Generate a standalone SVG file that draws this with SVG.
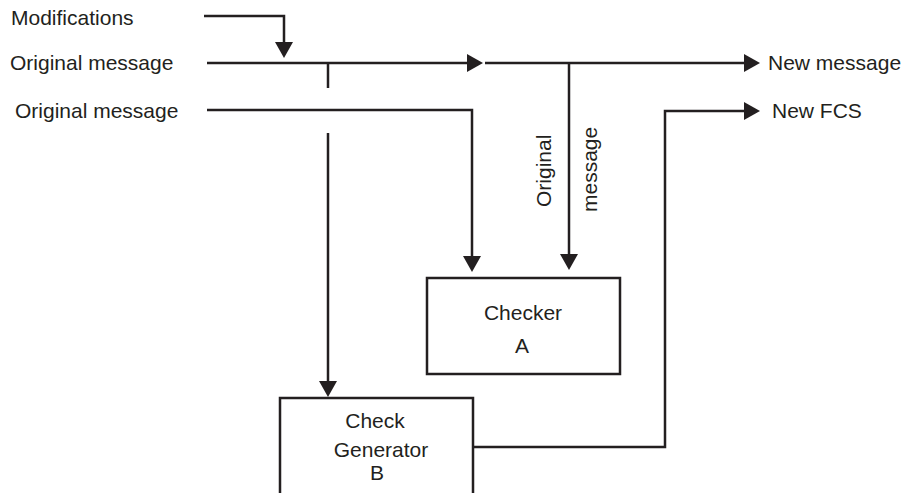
<svg xmlns="http://www.w3.org/2000/svg" width="905" height="493" viewBox="0 0 905 493">
<style>
.ln{fill:none;stroke:#231f20;stroke-width:2.5}
.bx{fill:#fff;stroke:#231f20;stroke-width:2.5}
.t{font-family:"Liberation Sans",Arial,sans-serif;font-size:21px;fill:#231f20}
.m{text-anchor:middle}
</style>
<defs>
<marker id="ah" viewBox="0 0 16 18" refX="8" refY="9" markerWidth="16" markerHeight="18" markerUnits="userSpaceOnUse" orient="auto">
<path d="M0,0 L16,9 L0,18 z" fill="#231f20"/>
</marker>
</defs>
<g id="labels">
<text class="t" x="11" y="25">Modifications</text>
<text class="t" x="10" y="70">Original message</text>
<text class="t" x="15" y="118">Original message</text>
<text class="t" x="768" y="70">New message</text>
<text class="t" x="772" y="118">New FCS</text>
<text class="t" transform="translate(551,207) rotate(-90)">Original</text>
<text class="t" transform="translate(597,212) rotate(-90)">message</text>
</g>
<g id="connectors">
<path class="ln" d="M204,16 H284 V50" marker-end="url(#ah)"/>
<path class="ln" d="M207,63 H475" marker-end="url(#ah)"/>
<path class="ln" d="M485,63 H752" marker-end="url(#ah)"/>
<path class="ln" d="M328,63 V88"/>
<path class="ln" d="M328,133 V389" marker-end="url(#ah)"/>
<path class="ln" d="M207,110 H472 V264" marker-end="url(#ah)"/>
<path class="ln" d="M569,63 V262" marker-end="url(#ah)"/>
<path class="ln" d="M473,447 H665 V111 H752" marker-end="url(#ah)"/>
</g>
<g id="checkerA">
<rect class="bx" x="427" y="278" width="193" height="96"/>
<text class="t m" x="523" y="320">Checker</text>
<text class="t m" x="522" y="353">A</text>
</g>
<g id="checkGeneratorB">
<path class="bx" d="M280,495 V398 H473 V495"/>
<text class="t m" x="375" y="428">Check</text>
<text class="t m" x="381" y="457">Generator</text>
<text class="t m" x="377" y="480">B</text>
</g>
</svg>
